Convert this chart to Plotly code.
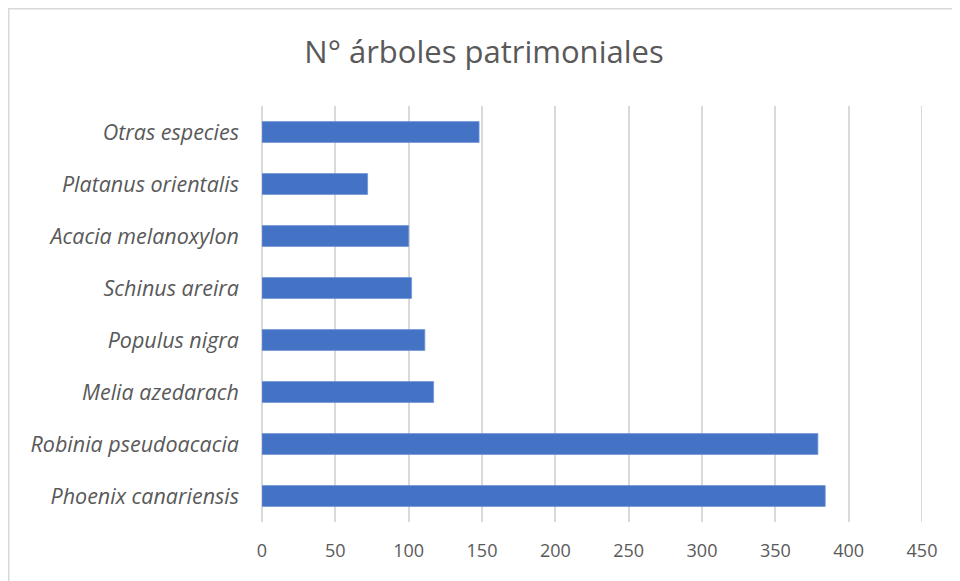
import plotly.graph_objects as go

species = ["Phoenix canariensis", "Robinia pseudoacacia", "Melia azedarach",
           "Populus nigra", "Schinus areira", "Acacia melanoxylon",
           "Platanus orientalis", "Otras especies"]
counts = [384, 379, 117, 111, 102, 100, 72, 148]
x_ticks = [0, 50, 100, 150, 200, 250, 300, 350, 400, 450]

FONT = "Open Sans, Lato, sans-serif"

fig = go.Figure(go.Bar(
    y=species, x=counts, orientation="h",
    marker=dict(color="#4472C4", line=dict(color="#6f93d6", width=0.8)),
    width=0.4,
))

W, H = 952, 573
L, T = 254, 98
PW, PH = 660, 416

fig.update_layout(
    width=W, height=H,
    paper_bgcolor="white", plot_bgcolor="white",
    margin=dict(l=L, r=W - L - PW, t=T, b=H - T - PH, pad=0),
    title=dict(text="N° árboles patrimoniales", x=0.5, xanchor="center",
               y=1 - 44 / H, yanchor="middle",
               font=dict(family=FONT, size=31, color="#595959")),
    showlegend=False,
)
fig.update_xaxes(range=[0, 450], tickvals=x_ticks, showgrid=True,
                 gridcolor="#D9D9D9", gridwidth=2, zeroline=True,
                 zerolinecolor="#D9D9D9", zerolinewidth=2,
                 ticks="", ticklabelstandoff=16,
                 tickfont=dict(family=FONT, size=18, color="#595959"),
                 showline=False)
fig.update_yaxes(categoryorder="array", categoryarray=species,
                 tickfont=dict(family=FONT, size=21.5, color="#595959", style="italic"),
                 ticks="", ticklabelstandoff=22, showgrid=False, showline=False)

# gridline at the axis end (450)
fig.add_shape(type="line", xref="x", yref="paper",
              x0=x_ticks[-1], x1=x_ticks[-1], y0=0, y1=1,
              line=dict(color="#D9D9D9", width=2), layer="below")

# chart-area border
fig.add_shape(type="rect", xref="paper", yref="paper",
              x0=(0.75 - L) / PW, x1=1 + 80 / PW,
              y0=-0.5, y1=1 + (T - 0.75) / PH,
              line=dict(color="#D9D9D9", width=1.5), fillcolor="rgba(0,0,0,0)",
              layer="below")

fig.write_html("out.html")
